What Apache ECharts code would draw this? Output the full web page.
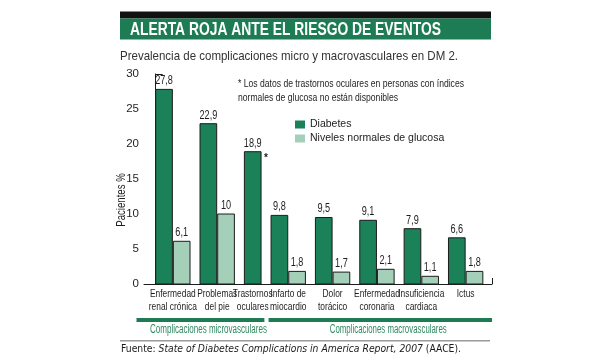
<!DOCTYPE html>
<html>
<head>
<meta charset="utf-8">
<script src="https://cdn.jsdelivr.net/npm/echarts@6/dist/echarts.min.js"></script>
<style>html,body{margin:0;padding:0;background:#fff}#c{width:614px;height:360px}</style>
</head>
<body>
<div id="c"></div>
<script>
// ---- data ----
const categories = ['Enfermedad\nrenal crónica','Problemas\ndel pie','Trastornos\noculares','Infarto de\nmiocardio','Dolor\ntorácico','Enfermedad\ncoronaria','Insuficiencia\ncardiaca','Ictus'];
const diabetes = [27.8, 22.9, 18.9, 9.8, 9.5, 9.1, 7.9, 6.6];
const glucosaNormal = [6.1, 10, null, 1.8, 1.7, 2.1, 1.1, 1.8];
const footnoteMarks = ['', '', '*', '', '', '', '', ''];
const complicationGroup = [0, 0, 0, 1, 1, 1, 1, 1];
const groupNames = ['Complicaciones microvasculares', 'Complicaciones macrovasculares'];
const seriesNames = ['Diabetes', 'Niveles normales de glucosa'];
const yTicks = [0, 5, 10, 15, 20, 25, 30];
const titleText = 'ALERTA ROJA ANTE EL RIESGO DE EVENTOS';
const subtitleText = 'Prevalencia de complicaciones micro y macrovasculares en DM 2.';
const noteLines = ['* Los datos de trastornos oculares en personas con índices', 'normales de glucosa no están disponibles'];
const yAxisName = 'Pacientes %';
const sourceParts = ['Fuente: ', 'State of Diabetes Complications in America Report, 2007', ' (AACE).'];

// ---- styles ----
const SANS = "'Liberation Sans',Arial,sans-serif";
const NARROW_SCALE = 0.8, LABEL_SCALE = 0.73;
const DARK = '#1b8158', LIGHT = '#a4cfb9', GREEN_T = '#1e7c55', TXT_GREEN = '#2f8b60';
const mctx = document.createElement('canvas').getContext('2d');
function tw(t, font){ mctx.font = font; return mctx.measureText(t).width; }
function fitScale(t, font, target){ return target / tw(t, font); }

// ---- layout (bar units) ----
const BAR = 1, INNER = 0.06, GAP = 0.6;
const darkX = [], lightX = [], gStart = [], gEnd = [], centers = [];
let cur = 0;
categories.forEach((c, i) => {
  gStart[i] = cur;
  darkX[i] = cur + BAR / 2; cur += BAR;
  if (glucosaNormal[i] != null) { cur += INNER; lightX[i] = cur + BAR / 2; cur += BAR; }
  gEnd[i] = cur; centers[i] = (gStart[i] + gEnd[i]) / 2; cur += GAP;
});
const totalEnd = cur - GAP;
const xMin = -0.7, xMax = totalEnd + 0.55;
const fmt = v => String(v).replace('.', ',');

function barRender(color) {
  return function (params, api) {
    const x = api.value(0), y = api.value(1), idx = api.value(2);
    const p0 = api.coord([x - BAR / 2, y]);
    const p1 = api.coord([x + BAR / 2, 0]);
    const children = [
      { type: 'rect', shape: { x: p0[0], y: p0[1], width: p1[0] - p0[0], height: p1[1] - p0[1] },
        style: { fill: color, stroke: '#1c1c1c', lineWidth: 1 } },
      { type: 'text', x: (p0[0] + p1[0]) / 2, y: p0[1] - 2, scaleX: LABEL_SCALE,
        style: { text: fmt(y), textAlign: 'center', textVerticalAlign: 'bottom', font: '12.5px ' + SANS, fill: '#1e1e1e' } }
    ];
    if (color === DARK) {
      if (footnoteMarks[idx]) {
        children.push({ type: 'text', x: p1[0] + 3, y: p0[1] + 2,
          style: { text: footnoteMarks[idx], textAlign: 'left', textVerticalAlign: 'top', font: 'bold 10px ' + SANS, fill: '#1e1e1e' } });
      }
      // category label under the group
      const c = api.coord([centers[idx], 0]);
      children.push({ type: 'text', x: c[0], y: c[1] + 4, scaleX: LABEL_SCALE,
        style: { text: categories[idx], textAlign: 'center', textVerticalAlign: 'top', font: '11.5px ' + SANS, lineHeight: 12.5, fill: '#1e1e1e' } });
    }
    return { type: 'group', children };
  };
}

// bracket extents derived from group membership
const brackets = groupNames.map((n, g) => {
  const idxs = complicationGroup.map((v, i) => v === g ? i : -1).filter(i => i >= 0);
  return { first: idxs[0], last: idxs[idxs.length - 1] };
});
const split = (gEnd[brackets[0].last] + gStart[brackets[1].first]) / 2;
const bracketData = [[xMin - 0.45, split - 0.1, 0], [split + 0.15, xMax, 1]];

const chart = echarts.init(document.getElementById('c'), null, { renderer: 'canvas' });
const groupFont = '12px ' + SANS;
chart.setOption({
  backgroundColor: '#fff',
  animation: false,
  grid: { left: 144, right: 122, top: 74, bottom: 76 },
  legend: {
    data: seriesNames, orient: 'vertical', left: 290, top: 114, itemGap: 3,
    itemWidth: 10, itemHeight: 8, icon: 'rect',
    textStyle: { fontFamily: SANS, fontSize: 10.5, color: '#222' }
  },
  xAxis: {
    type: 'value', min: xMin, max: xMax,
    splitLine: { show: false },
    axisLine: { show: true, lineStyle: { color: '#1c1c1c', width: 1 } },
    axisTick: { show: true, inside: true, length: 6, customValues: [xMax], lineStyle: { color: '#1c1c1c' } },
    axisLabel: { show: false }
  },
  yAxis: {
    type: 'value', min: 0, max: 30, interval: 5,
    splitLine: { show: false },
    axisLine: { show: true, lineStyle: { color: '#1c1c1c', width: 1 } },
    axisTick: { show: true, inside: true, length: 7, lineStyle: { color: '#1c1c1c' } },
    axisLabel: { margin: 5, fontFamily: SANS, fontSize: 11.5, color: '#1e1e1e',
      formatter: v => yTicks.includes(v) ? String(v) : '' }
  },
  series: [
    { type: 'custom', name: seriesNames[0], itemStyle: { color: DARK }, clip: false,
      renderItem: barRender(DARK), encode: { x: 0, y: 1 },
      data: diabetes.map((v, i) => [darkX[i], v, i]) },
    { type: 'custom', name: seriesNames[1], itemStyle: { color: LIGHT }, clip: false,
      renderItem: barRender(LIGHT), encode: { x: 0, y: 1 },
      data: glucosaNormal.map((v, i) => v == null ? null : [lightX[i], v, i]).filter(d => d) },
    { type: 'custom', name: 'grupos', clip: false, silent: true,
      encode: { x: [0, 1] },
      renderItem: (params, api) => {
        const a = api.coord([api.value(0), 0]), b = api.coord([api.value(1), 0]);
        const name = groupNames[api.value(2)];
        const sc = fitScale(name, groupFont, 117);
        const cx = (a[0] + b[0]) / 2 + 8;
        return { type: 'group', children: [
          { type: 'rect', shape: { x: a[0], y: a[1] + 34, width: b[0] - a[0], height: 4 }, style: { fill: GREEN_T } },
          { type: 'text', x: cx, y: a[1] + 46, scaleX: sc,
            style: { text: name, textAlign: 'center', textVerticalAlign: 'middle', font: groupFont, fill: TXT_GREEN } }
        ] };
      },
      data: bracketData }
  ],
  graphic: [
    { type: 'rect', left: 120, top: 11.5, shape: { width: 371, height: 7 }, style: { fill: '#111' } },
    { type: 'rect', left: 120, top: 18.5, shape: { width: 371, height: 21 }, style: { fill: GREEN_T } },
    { type: 'text', x: 130, y: 29.5, scaleX: fitScale(titleText, 'bold 19px ' + SANS, 311),
      style: { text: titleText, font: 'bold 19px ' + SANS, fill: '#fff', textVerticalAlign: 'middle' } },
    { type: 'text', x: 120, y: 56, scaleX: fitScale(subtitleText, '13.5px ' + SANS, 338),
      style: { text: subtitleText, font: '13.5px ' + SANS, fill: '#333', textVerticalAlign: 'middle' } },
    { type: 'text', x: 238, y: 84, scaleX: fitScale(noteLines[0], '11.5px ' + SANS, 226),
      style: { text: noteLines[0], font: '11.5px ' + SANS, fill: '#1e1e1e', textVerticalAlign: 'middle' } },
    { type: 'text', x: 238, y: 98, scaleX: fitScale(noteLines[0], '11.5px ' + SANS, 226),
      style: { text: noteLines[1], font: '11.5px ' + SANS, fill: '#1e1e1e', textVerticalAlign: 'middle' } },
    { type: 'text', x: 122, y: 200, rotation: Math.PI / 2, scaleX: NARROW_SCALE,
      style: { text: yAxisName, font: '12px ' + SANS, fill: '#1e1e1e', textAlign: 'center', textVerticalAlign: 'middle' } },
    { type: 'rect', left: 120, top: 340, shape: { width: 370, height: 1.5 }, style: { fill: '#9a9a9a' } },
    { type: 'text', x: 121, y: 349,
      scaleX: 340 / (tw(sourceParts[0] + sourceParts[2], '10px DejaVu Sans') + tw(sourceParts[1], 'italic 10px DejaVu Sans')),
      style: { text: '{n|' + sourceParts[0] + '}{i|' + sourceParts[1] + '}{n|' + sourceParts[2] + '}',
        textVerticalAlign: 'middle',
        rich: { n: { font: '10px DejaVu Sans', fill: '#1a1a1a' }, i: { font: 'italic 10px DejaVu Sans', fill: '#1a1a1a' } } } }
  ]
});
</script>
</body>
</html>
